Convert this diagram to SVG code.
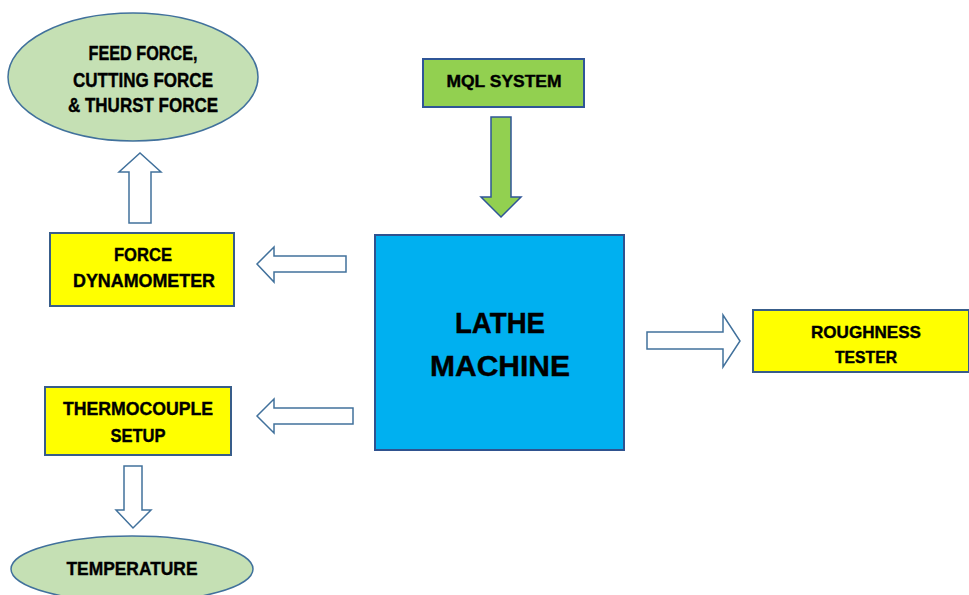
<svg xmlns="http://www.w3.org/2000/svg" width="969" height="595" viewBox="0 0 969 595">
<style>
text{font-family:"Liberation Sans",Arial,sans-serif;font-weight:bold;fill:#000;stroke:#000;stroke-width:0.4;text-anchor:middle}
.ell{fill:#c5e0b4;stroke:#41719c;stroke-width:1.5}
.yel{fill:#ffff00;stroke:#385d8a;stroke-width:2}
.arr{fill:#fff;stroke:#41719c;stroke-width:1.5;stroke-linejoin:miter}
.t18{font-size:19px}
</style>
<rect width="969" height="595" fill="#fff"/>
<g id="connectors">
<polygon class="arr" points="129,223 151,223 151,172 161,172 140,153 119,172 129,172"/>
<polygon class="arr" points="346,256 346,272 274,272 274,282 257,264 274,247 274,256"/>
<polygon class="arr" points="353,408 353,424 274,424 274,433 257,416 274,399 274,408"/>
<polygon class="arr" points="124,466 142,466 142,510 151,510 133,528 116,510 124,510"/>
<polygon class="arr" points="647,332 723,332 723,315 740,341 723,367 723,349 647,349"/>
<polygon points="491,117 511,117 511,197 521,197 501,217 481,197 491,197" fill="#92d050" stroke="#2f5597" stroke-width="1.5"/>
</g>
<g id="forces">
<ellipse class="ell" cx="133" cy="77" rx="125" ry="64"/>
<text x="143" y="60" font-size="20" textLength="109" lengthAdjust="spacingAndGlyphs">FEED FORCE,</text>
<text x="143" y="87" font-size="20" textLength="140" lengthAdjust="spacingAndGlyphs">CUTTING FORCE</text>
<text x="143" y="112" font-size="20" textLength="150" lengthAdjust="spacingAndGlyphs">&amp; THURST FORCE</text>
</g>
<g id="mql">
<rect x="423" y="59" width="161" height="48" fill="#92d050" stroke="#2f5597" stroke-width="2"/>
<text x="504" y="87" font-size="16" textLength="115" lengthAdjust="spacingAndGlyphs">MQL SYSTEM</text>
</g>
<g id="dynamometer">
<rect class="yel" x="50" y="233" width="184" height="73"/>
<text class="t18" x="143" y="261" textLength="58" lengthAdjust="spacingAndGlyphs">FORCE</text>
<text class="t18" x="144" y="287" textLength="142" lengthAdjust="spacingAndGlyphs">DYNAMOMETER</text>
</g>
<g id="lathe">
<rect x="375" y="235" width="249" height="215" fill="#00b0f0" stroke="#2f528f" stroke-width="2"/>
<text x="500" y="333" font-size="29" textLength="90" lengthAdjust="spacingAndGlyphs">LATHE</text>
<text x="500" y="376" font-size="29" textLength="140" lengthAdjust="spacingAndGlyphs">MACHINE</text>
</g>
<g id="roughness">
<rect class="yel" x="753" y="310" width="216" height="62"/>
<text x="866" y="338" font-size="17" textLength="110" lengthAdjust="spacingAndGlyphs">ROUGHNESS</text>
<text x="866" y="363" font-size="17" textLength="62" lengthAdjust="spacingAndGlyphs">TESTER</text>
</g>
<g id="thermocouple">
<rect class="yel" x="45" y="387" width="186" height="68"/>
<text class="t18" x="138" y="415" textLength="150" lengthAdjust="spacingAndGlyphs">THERMOCOUPLE</text>
<text class="t18" x="138" y="442" textLength="55" lengthAdjust="spacingAndGlyphs">SETUP</text>
</g>
<g id="temperature">
<ellipse class="ell" cx="132" cy="569" rx="121" ry="33"/>
<text class="t18" x="132" y="575" textLength="131" lengthAdjust="spacingAndGlyphs">TEMPERATURE</text>
</g>
</svg>
